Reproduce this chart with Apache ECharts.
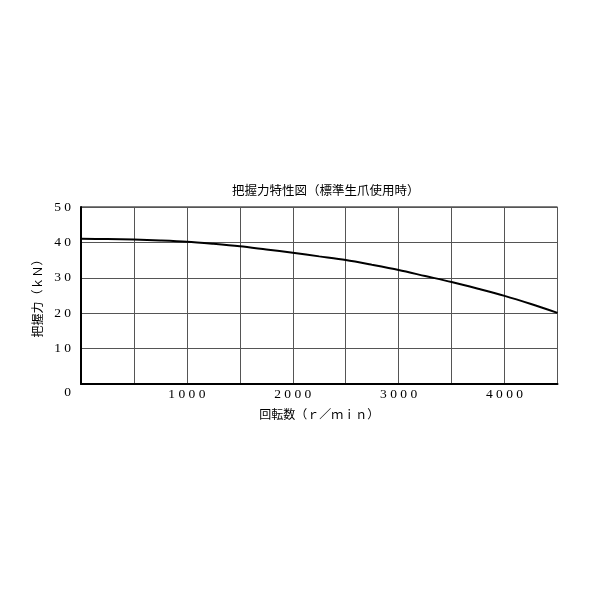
<!DOCTYPE html>
<html>
<head>
<meta charset="utf-8">
<script src="https://cdn.jsdelivr.net/npm/echarts@6/dist/echarts.min.js"></script>
<style>html,body{margin:0;padding:0;background:#fff;}#c{width:600px;height:600px;}</style>
</head>
<body>
<div id="c"></div>
<script>
var rpm = [0, 250, 500, 750, 1000, 1250, 1500, 1750, 2000, 2250, 2500, 2750, 3000, 3250, 3500, 3750, 4000, 4250, 4500];
var force = [41.0, 40.95, 40.8, 40.55, 40.2, 39.6, 38.9, 38.0, 37.1, 36.05, 35.0, 33.65, 32.2, 30.5, 28.8, 26.9, 24.9, 22.6, 20.1];
var xLabels = [1000, 2000, 3000, 4000];
var yLabels = [0, 10, 20, 30, 40, 50];
var titleText = '把握力特性図（標準生爪使用時）';
var xName = '回転数（ｒ／ｍｉｎ）';
var yName = '把握力（ｋＮ）';

function spaced(v) { return String(v).split('').join(' '); }

var chart = echarts.init(document.getElementById('c'));
chart.setOption({
  animation: false,
  title: {
    text: titleText,
    left: 227, top: 179,
    textStyle: { fontFamily: 'Noto Sans CJK JP', fontSize: 12.5, fontWeight: 'normal', color: '#000' }
  },
  grid: { left: 81, right: 42.5, top: 207, bottom: 216, show: true, borderColor: '#000', borderWidth: 1, backgroundColor: 'transparent' },
  xAxis: {
    type: 'value', min: 0, max: 4500, interval: 500,
    name: xName, nameLocation: 'middle', nameGap: 24,
    nameTextStyle: { fontFamily: 'Noto Sans CJK JP', fontSize: 12, color: '#000' },
    axisLine: { show: true, lineStyle: { color: '#000', width: 2 } },
    axisTick: { show: false },
    splitLine: { show: true, lineStyle: { color: '#555', width: 1 } },
    axisLabel: {
      margin: 3,
      fontFamily: 'Liberation Serif', fontSize: 13.5, color: '#000',
      formatter: function (v) { return xLabels.indexOf(v) >= 0 ? spaced(v) : ''; }
    }
  },
  yAxis: {
    type: 'value', min: 0, max: 50, interval: 10,
    name: yName, nameLocation: 'middle', nameGap: 34, nameRotate: 90,
    nameTextStyle: { fontFamily: 'Noto Sans CJK JP', fontSize: 12, color: '#000' },
    axisLine: { show: true, lineStyle: { color: '#000', width: 2 } },
    axisTick: { show: false },
    splitLine: { show: true, lineStyle: { color: '#555', width: 1 } },
    axisLabel: {
      margin: 10,
      fontFamily: 'Liberation Serif', fontSize: 13.5, color: '#000',
      formatter: function (v) {
        if (yLabels.indexOf(v) < 0) return '';
        return v === 0 ? '{z|0}' : spaced(v);
      },
      rich: { z: { fontFamily: 'Liberation Serif', fontSize: 13.5, color: '#000', padding: [16, 0, 0, 0] } }
    }
  },
  series: [{
    type: 'line',
    data: rpm.map(function (r, i) { return [r, force[i]]; }),
    smooth: 0.3,
    symbol: 'none',
    lineStyle: { color: '#000', width: 2 },
    z: 5
  }]
});
</script>
</body>
</html>
